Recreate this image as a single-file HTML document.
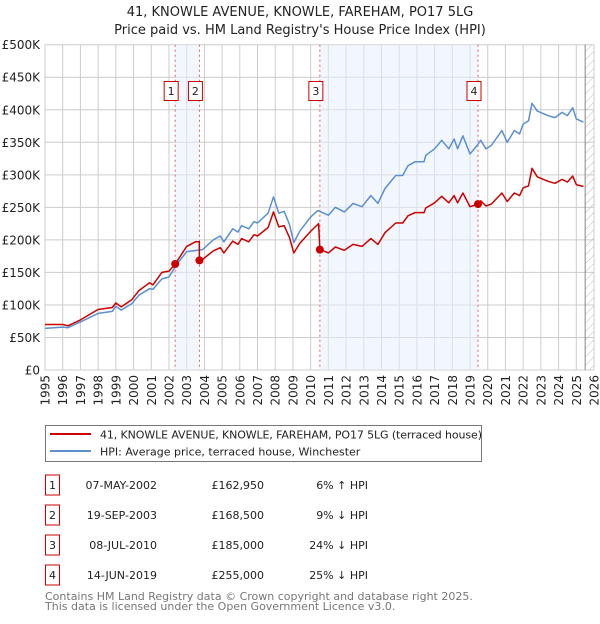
<!DOCTYPE html>
<html><head><meta charset="utf-8">
<style>
body{margin:0;background:#fff;font-family:"DejaVu Sans","Liberation Sans",sans-serif;}
svg text{font-family:"DejaVu Sans","Liberation Sans",sans-serif;}
</style></head>
<body>
<svg id="chart" width="600" height="620" xmlns="http://www.w3.org/2000/svg">
<defs><pattern id="hatch" width="6" height="6" patternUnits="userSpaceOnUse" patternTransform="rotate(45)"><line x1="0" y1="0" x2="0" y2="6" stroke="#bbb" stroke-width="1"/></pattern></defs>
<text x="300" y="16" text-anchor="middle" font-size="13" fill="#222">41, KNOWLE AVENUE, KNOWLE, FAREHAM, PO17 5LG</text>
<text x="300" y="34" text-anchor="middle" font-size="13" fill="#222">Price paid vs. HM Land Registry's House Price Index (HPI)</text>
<g id="grid"></g><g id="shade"></g><g id="lines"></g><g id="axes"></g>
<rect x="45.5" y="425.5" width="436" height="36" fill="#fff" stroke="#777"/>
<line x1="50" y1="434" x2="91" y2="434" stroke="#cc0000" stroke-width="2"/>
<text x="100" y="438.5" font-size="11" fill="#222" textLength="382">41, KNOWLE AVENUE, KNOWLE, FAREHAM, PO17 5LG (terraced house)</text>
<line x1="50" y1="451" x2="91" y2="451" stroke="#5b8fd0" stroke-width="2"/>
<text x="100" y="455.5" font-size="11" fill="#222">HPI: Average price, terraced house, Winchester</text>
<g id="table" font-size="11" fill="#222"></g>
<text x="45" y="600" font-size="11" fill="#777">Contains HM Land Registry data © Crown copyright and database right 2025.</text>
<text x="45" y="610" font-size="11" fill="#777">This data is licensed under the Open Government Licence v3.0.</text>
</svg>
<script>
const hpiYears=[1995,1996,1996.3,1997,1998,1998.8,1999,1999.3,1999.9,2000.3,2000.9,2001.1,2001.6,2002.0,2002.4,2003.0,2003.9,2004.5,2004.9,2005.1,2005.6,2005.9,2006.1,2006.5,2006.8,2007.0,2007.6,2007.9,2008.2,2008.5,2008.8,2009.05,2009.4,2010.0,2010.4,2011.0,2011.4,2011.9,2012.4,2012.9,2013.4,2013.8,2014.2,2014.8,2015.2,2015.5,2015.9,2016.4,2016.5,2017.0,2017.4,2017.8,2018.1,2018.3,2018.6,2019.0,2019.4,2019.6,2019.9,2020.2,2020.8,2021.1,2021.5,2021.8,2022.0,2022.3,2022.5,2022.8,2023.4,2023.8,2024.2,2024.5,2024.8,2025.0,2025.4];
const hpiValues=[64,66,65,74,87,90,98,92,102,115,125,124,140,143,161,182,185,200,206,197,217,212,222,217,228,226,241,266,241,244,224,196,214,235,245,238,250,243,256,251,268,256,279,299,299,314,320,320,330,340,353,340,355,340,360,332,345,353,340,345,368,350,368,363,378,383,410,398,391,388,396,391,403,386,381];
const priceYears=[1995,1996,1996.3,1997,1998,1998.8,1999,1999.3,1999.9,2000.3,2000.9,2001.1,2001.6,2002.0,2002.35,2003.0,2003.5,2003.71,2003.72,2003.9,2004.5,2004.9,2005.1,2005.6,2005.9,2006.1,2006.5,2006.8,2007.0,2007.6,2007.9,2008.2,2008.5,2008.8,2009.05,2009.4,2010.0,2010.45,2010.52,2011.0,2011.4,2011.9,2012.4,2012.9,2013.4,2013.8,2014.2,2014.8,2015.2,2015.5,2015.9,2016.4,2016.5,2017.0,2017.4,2017.8,2018.1,2018.3,2018.6,2019.0,2019.45,2019.6,2019.9,2020.2,2020.8,2021.1,2021.5,2021.8,2022.0,2022.3,2022.5,2022.8,2023.4,2023.8,2024.2,2024.5,2024.8,2025.0,2025.4];
const priceValues=[70,70,68,77,93,96,103,97,108,122,134,131,150,152,163,190,197,197,168.5,170,183,188,180,198,193,202,197,208,206,219,243,220,222,204,180,195,213,225,185,180,189,184,193,190,202,193,211,226,226,237,242,242,249,257,267,257,268,257,272,251,255,260,252,255,272,259,272,268,280,283,310,297,290,287,293,289,298,285,282];
const saleYears=[2002.35,2003.72,2010.52,2019.45];
const saleValues=[162.95,168.5,185,255];
const saleLabels=["1","2","3","4"];
const saleDates=["07-MAY-2002","19-SEP-2003","08-JUL-2010","14-JUN-2019"];
const salePrices=["£162,950","£168,500","£185,000","£255,000"];
const saleHpi=["6% ↑ HPI","9% ↓ HPI","24% ↓ HPI","25% ↓ HPI"];
const yTicks=[0,50,100,150,200,250,300,350,400,450,500];
const yTickLabels=["£0","£50K","£100K","£150K","£200K","£250K","£300K","£350K","£400K","£450K","£500K"];
const xTicks=[1995,1996,1997,1998,1999,2000,2001,2002,2003,2004,2005,2006,2007,2008,2009,2010,2011,2012,2013,2014,2015,2016,2017,2018,2019,2020,2021,2022,2023,2024,2025,2026];

const NS="http://www.w3.org/2000/svg";
const X0=45,X1=594,Y0=370,Y1=44.7;
const xs=y=>X0+(y-1995)/(2026-1995)*(X1-X0);
const ys=v=>Y0-v/500*(Y0-Y1);
function mk(tag,attrs,parent){const e=document.createElementNS(NS,tag);for(const k in attrs)e.setAttribute(k,attrs[k]);parent.appendChild(e);return e;}
const grid=document.getElementById('grid'),shade=document.getElementById('shade'),lines=document.getElementById('lines'),axes=document.getElementById('axes'),table=document.getElementById('table');

yTicks.forEach((t,i)=>{
 const l=mk('line',{x1:X0,x2:X1,y1:ys(t),y2:ys(t),stroke:'#ccc','stroke-width':1},grid);
 
 
 const tx=mk('text',{x:40,y:ys(t)+4.5,'text-anchor':'end','font-size':12,fill:'#222'},axes);
 tx.textContent=yTickLabels[i];
 
 
});
xTicks.forEach(t=>{
 const l=mk('line',{x1:xs(t),x2:xs(t),y1:Y1,y2:Y0,stroke:'#ccc','stroke-width':1},grid);
 
 
 const tx=mk('text',{x:0,y:0,'text-anchor':'end','font-size':12,fill:'#222',transform:`translate(${xs(t)+4.5},375) rotate(-90)`},axes);
 tx.textContent=t;
 
 
});
[[0,1],[2,3]].forEach(p=>{
 const r=mk('rect',{x:xs(saleYears[p[0]]),y:Y1,width:xs(saleYears[p[1]])-xs(saleYears[p[0]]),height:Y0-Y1,fill:'#e8eefc','fill-opacity':0.55},shade);
 
 
});
const h=mk('rect',{x:xs(2025.5),y:Y1,width:X1-xs(2025.5),height:Y0-Y1,fill:'url(#hatch)'},shade);


mk('line',{x1:xs(2025.5),x2:xs(2025.5),y1:Y1,y2:Y0,stroke:'#888'},shade);
saleYears.forEach((y,i)=>{
 const l=mk('line',{x1:xs(y),x2:xs(y),y1:Y1,y2:Y0,stroke:'#e06060','stroke-dasharray':'2,3','stroke-width':1},shade);
 
 
 const r=mk('rect',{x:xs(y)-11,y:81.5,width:14,height:19,fill:'#fff',stroke:'#c00'},shade);
 
 
 const t=mk('text',{x:xs(y)-4,y:95,'text-anchor':'middle','font-size':11,fill:'#222'},shade);
 t.textContent=saleLabels[i];
});
function path(xa,va,color,name){
 const d=xa.map((x,i)=>(i?'L':'M')+xs(x).toFixed(1)+','+ys(va[i]).toFixed(1)).join('');
 const p=mk('path',{d:d,fill:'none',stroke:color,'stroke-width':1.5,'stroke-linejoin':'round'},lines);
 
 
}
path(hpiYears,hpiValues,'#5b8fd0','hpi-line');
path(priceYears,priceValues,'#cc0000','price-paid-line');
saleYears.forEach((y,i)=>{
 const c=mk('circle',{cx:xs(y),cy:ys(saleValues[i]),r:4,fill:'#cc0000'},lines);
 
 
});
saleLabels.forEach((lab,i)=>{
 const cy=485+i*30;
 const r=mk('rect',{x:45.5,y:cy-10,width:14,height:20,fill:'#fff',stroke:'#c00'},table);
 
 
 const cells=[[52.5,lab,'middle','row-number'],[157,saleDates[i],'end','sale-date'],[264,salePrices[i],'end','sale-price'],[368,saleHpi[i],'end','hpi-change']];
 cells.forEach(c=>{
  const t=mk('text',{x:c[0],y:cy+4,'text-anchor':c[2],'font-size':11,fill:'#222'},table);
  t.textContent=c[1];
  
  
 });
});
</script>
</body></html>
